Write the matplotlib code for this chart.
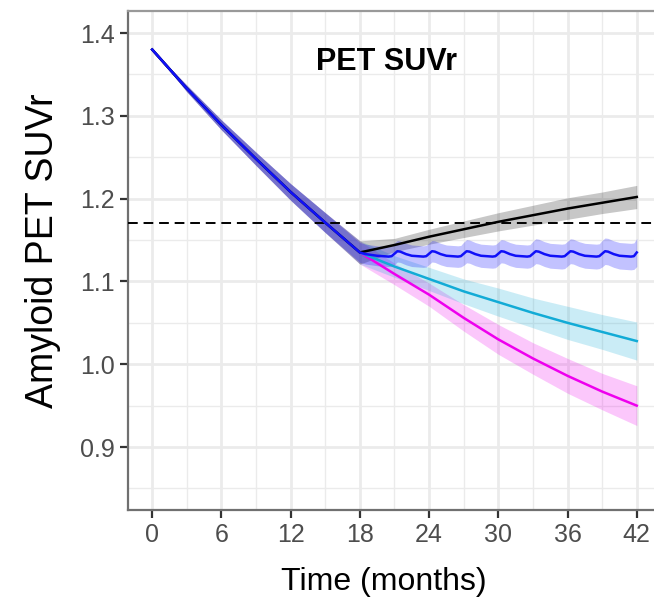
import numpy as np
import matplotlib
matplotlib.use("Agg")
import matplotlib.pyplot as plt
from matplotlib.ticker import MultipleLocator

plt.rcParams['font.family'] = ['Liberation Sans', 'DejaVu Sans']

# shared months (3-month steps)
months = [0, 3, 6, 9, 12, 15, 18, 21, 24, 27, 30, 33, 36, 39, 42]

# common decline before month 18
pre_mean = [1.380, 1.333, 1.289, 1.248, 1.208, 1.171, 1.135]
pre_half = [0.000, 0.004, 0.006, 0.008, 0.010, 0.012, 0.014]

# after month 18 (months 21..42)
black_mean = [1.144, 1.154, 1.163, 1.172, 1.180, 1.188, 1.195, 1.202]
black_half = [0.008, 0.009, 0.010, 0.011, 0.012, 0.013, 0.013, 0.014]
cyan_mean = [1.118, 1.103, 1.088, 1.075, 1.062, 1.050, 1.039, 1.028]
cyan_half = [0.013, 0.014, 0.015, 0.017, 0.018, 0.020, 0.021, 0.023]
pink_mean = [1.109, 1.084, 1.056, 1.030, 1.007, 0.986, 0.967, 0.950]
pink_half = [0.013, 0.014, 0.016, 0.018, 0.019, 0.021, 0.022, 0.024]

# blue series with the 3-monthly dosing wiggle
blue_t = [18, 18.5, 19, 19.5, 20, 20.5, 20.75,
          21, 21.25, 21.5, 22, 22.5, 23, 23.5, 23.75,
          24, 24.25, 24.5, 25, 25.5, 26, 26.5, 26.75,
          27, 27.25, 27.5, 28, 28.5, 29, 29.5, 29.75,
          30, 30.25, 30.5, 31, 31.5, 32, 32.5, 32.75,
          33, 33.25, 33.5, 34, 34.5, 35, 35.5, 35.75,
          36, 36.25, 36.5, 37, 37.5, 38, 38.5, 38.75,
          39, 39.25, 39.5, 40, 40.5, 41, 41.5, 41.75,
          42]
blue_v = [1.135, 1.133, 1.132, 1.131, 1.1305, 1.130, 1.1305,
          1.1335, 1.1365, 1.136, 1.133, 1.131, 1.1305, 1.130, 1.1305,
          1.1335, 1.1365, 1.136, 1.133, 1.131, 1.1305, 1.130, 1.1305,
          1.1335, 1.1365, 1.136, 1.133, 1.131, 1.1305, 1.130, 1.1305,
          1.1335, 1.1365, 1.136, 1.133, 1.131, 1.1305, 1.130, 1.1305,
          1.1335, 1.1365, 1.136, 1.133, 1.131, 1.1305, 1.130, 1.1305,
          1.1335, 1.1365, 1.136, 1.133, 1.131, 1.1305, 1.130, 1.1305,
          1.1335, 1.1365, 1.136, 1.133, 1.131, 1.1305, 1.130, 1.1305,
          1.135]
blue_h = [0.012, 0.012, 0.012, 0.012, 0.012, 0.012, 0.012,
          0.013, 0.013, 0.013, 0.013, 0.013, 0.013, 0.013, 0.013,
          0.013, 0.013, 0.013, 0.013, 0.013, 0.013, 0.013, 0.013,
          0.014, 0.014, 0.014, 0.014, 0.014, 0.014, 0.014, 0.014,
          0.014, 0.014, 0.014, 0.014, 0.014, 0.014, 0.014, 0.014,
          0.015, 0.015, 0.015, 0.015, 0.015, 0.015, 0.015, 0.015,
          0.015, 0.015, 0.015, 0.015, 0.015, 0.015, 0.015, 0.015,
          0.016, 0.016, 0.016, 0.016, 0.016, 0.016, 0.016, 0.016,
          0.017]

threshold = 1.17

fig = plt.figure(figsize=(6.54, 5.98), dpi=100)
ax = fig.add_axes([0.1957, 0.1472, 0.815, 0.8344])

series = [
    ('#EE00EE', pink_mean, pink_half),
    ('#12ABD6', cyan_mean, cyan_half),
    ('#000000', black_mean, black_half),
]
for col, m, h in series:
    mm = np.array(pre_mean + m)
    hh = np.array(pre_half + h)
    ax.fill_between(months, mm - hh, mm + hh, color=col, alpha=0.22, lw=0, zorder=2)

bt = months[:6] + blue_t
bv = np.array(pre_mean[:6] + blue_v)
bh = np.array(pre_half[:6] + blue_h)
ax.fill_between(bt, bv - bh, bv + bh, color='#0000FF', alpha=0.24, lw=0, zorder=2)

for col, m, h in series:
    ax.plot(months, pre_mean + m, color=col, lw=1.8, zorder=4)
ax.plot(bt, bv, color='#1010F8', lw=1.8, zorder=5)

ax.axhline(threshold, color='black', lw=1.4, ls=(0, (5, 3)), zorder=3)

ax.text(20.3, 1.365, 'PET SUVr', fontsize=22, fontweight='bold',
        ha='center', va='center', zorder=6)

ax.set_xlim(-2.1, 44.1)
ax.set_ylim(0.824, 1.4266)
ax.xaxis.set_minor_locator(MultipleLocator(3))
ax.yaxis.set_minor_locator(MultipleLocator(0.05))
ax.set_yticks([0.9, 1.0, 1.1, 1.2, 1.3, 1.4])
ax.set_yticklabels(['0.9', '1.0', '1.1', '1.2', '1.3', '1.4'])
ax.set_xticks([0, 6, 12, 18, 24, 30, 36, 42])

ax.grid(which='major', color='#EBEBEB', lw=2.0, zorder=0)
ax.grid(which='minor', color='#EBEBEB', lw=1.0, zorder=0)
ax.set_axisbelow(True)

ax.tick_params(which='major', length=5.5, width=1.6, color='#333333',
               labelsize=18, labelcolor='#4D4D4D', pad=4)
ax.tick_params(which='minor', length=0)

for s in ['left', 'bottom']:
    ax.spines[s].set_color('#707070')
    ax.spines[s].set_linewidth(1.6)
ax.spines['top'].set_color('#999999')
ax.spines['top'].set_linewidth(1.6)
ax.spines['right'].set_visible(False)

ax.set_xlabel('Time (months)', fontsize=23)
ax.xaxis.set_label_coords((384 - 128) / 533.0, -0.115)
ax.set_ylabel('Amyloid PET SUVr', fontsize=27)
ax.yaxis.set_label_coords(-0.125, 0.52)

fig.savefig('out.png', dpi=100)
